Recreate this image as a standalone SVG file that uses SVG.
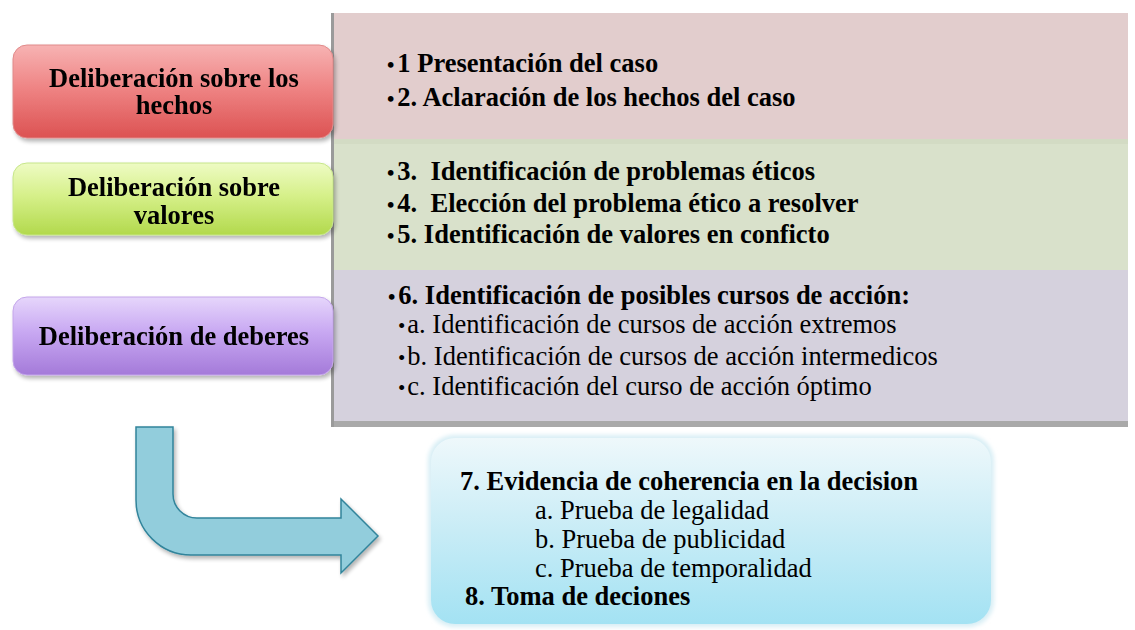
<svg xmlns="http://www.w3.org/2000/svg" width="1135" height="630" viewBox="0 0 1135 630">
<defs>
<style>
.b{font-family:"Liberation Serif","Times New Roman",serif;font-weight:bold;font-size:26.5px;fill:#000}
.r{font-family:"Liberation Serif","Times New Roman",serif;font-weight:normal;font-size:26.5px;fill:#000}
.c{text-anchor:middle}
.bu{font-size:21px}
</style>
<linearGradient id="gRed" x1="0" y1="0" x2="0" y2="1">
<stop offset="0" stop-color="#f7b3b3"/><stop offset="0.45" stop-color="#ef8585"/><stop offset="1" stop-color="#dc5252"/>
</linearGradient>
<linearGradient id="gGreen" x1="0" y1="0" x2="0" y2="1">
<stop offset="0" stop-color="#eefbc4"/><stop offset="0.45" stop-color="#d6f08a"/><stop offset="1" stop-color="#b2d94c"/>
</linearGradient>
<linearGradient id="gPurple" x1="0" y1="0" x2="0" y2="1">
<stop offset="0" stop-color="#e6d6fb"/><stop offset="0.45" stop-color="#c8a8f2"/><stop offset="1" stop-color="#a47ad9"/>
</linearGradient>
<linearGradient id="gBlue" x1="0" y1="0" x2="0" y2="1">
<stop offset="0" stop-color="#eef8fb"/><stop offset="0.5" stop-color="#c8ecf6"/><stop offset="1" stop-color="#a3e2f3"/>
</linearGradient>
<filter id="sh" x="-5%" y="-10%" width="112%" height="125%">
<feGaussianBlur in="SourceAlpha" stdDeviation="2"/>
<feOffset dx="2" dy="3" result="o"/>
<feComponentTransfer><feFuncA type="linear" slope="0.3"/></feComponentTransfer>
<feMerge><feMergeNode/><feMergeNode in="SourceGraphic"/></feMerge>
</filter>
<filter id="soft" x="-5%" y="-10%" width="110%" height="120%">
<feGaussianBlur in="SourceGraphic" stdDeviation="2"/>
</filter>
</defs>
<rect width="1135" height="630" fill="#ffffff"/>

<g id="panel-hechos">
<rect x="333" y="13" width="795" height="126" fill="#e2cdcd"/>
<text class="b" x="387" y="72"><tspan class="bu">•</tspan><tspan dx="3">1 Presentación del caso</tspan></text>
<text class="b" x="387" y="106"><tspan class="bu">•</tspan><tspan dx="3">2. Aclaración de los hechos del caso</tspan></text>
</g>
<g id="panel-valores">
<rect x="333" y="139" width="795" height="131" fill="#d9e1cb"/>
<rect x="333" y="139" width="795" height="5" fill="#d3dbc4"/>
<text class="b" x="387" y="180" xml:space="preserve"><tspan class="bu">•</tspan><tspan dx="3">3.  Identificación de problemas éticos</tspan></text>
<text class="b" x="387" y="212" xml:space="preserve"><tspan class="bu">•</tspan><tspan dx="3">4.  Elección del problema ético a resolver</tspan></text>
<text class="b" x="387" y="243"><tspan class="bu">•</tspan><tspan dx="3">5. Identificación de valores en conficto</tspan></text>
</g>
<g id="panel-deberes">
<rect x="333" y="270" width="795" height="151" fill="#d5d1dd"/>
<rect x="333" y="421" width="795" height="6" fill="#a9a9a9"/>
<text class="b" x="388" y="304"><tspan class="bu">•</tspan><tspan dx="3">6. Identificación de posibles cursos de acción:</tspan></text>
<text class="r" x="398" y="333"><tspan class="bu">•</tspan><tspan dx="2">a. Identificación de cursos de acción extremos</tspan></text>
<text class="r" x="398" y="365"><tspan class="bu">•</tspan><tspan dx="2">b. Identificación de cursos de acción intermedicos</tspan></text>
<text class="r" x="398" y="395"><tspan class="bu">•</tspan><tspan dx="2">c. Identificación del curso de acción óptimo</tspan></text>
</g>
<rect x="331" y="13" width="3" height="414" fill="#9a9a9a"/>

<g id="node-hechos" filter="url(#sh)">
<rect x="13" y="45" width="320" height="93" rx="14" fill="url(#gRed)" stroke="#e08a8a" stroke-width="1"/>
<text class="b c" x="174" y="87">Deliberación sobre los</text>
<text class="b c" x="174" y="114">hechos</text>
</g>
<g id="node-valores" filter="url(#sh)">
<rect x="13" y="163" width="320" height="72" rx="14" fill="url(#gGreen)" stroke="#c6e68a" stroke-width="1"/>
<text class="b c" x="174" y="196">Deliberación sobre</text>
<text class="b c" x="174" y="224">valores</text>
</g>
<g id="node-deberes" filter="url(#sh)">
<rect x="13" y="297" width="320" height="78" rx="14" fill="url(#gPurple)" stroke="#c4a6ea" stroke-width="1"/>
<text class="b c" x="174" y="345">Deliberación de deberes</text>
</g>

<g id="connectors" filter="url(#sh)">
<path d="M136,427 L136,500 A55,55 0 0 0 191,555 L341,555 L341,573 L378,536 L341,499 L341,518 L197,518 A24,24 0 0 1 173,494 L173,427 Z" fill="#92cddc" stroke="#31849b" stroke-width="1.5"/>
</g>

<g id="node-decision">
<rect x="428" y="435" width="566" height="192" rx="26" fill="#d8eef5" filter="url(#soft)"/>
<rect x="431" y="438" width="560" height="186" rx="24" fill="url(#gBlue)"/>
<text class="b" x="460" y="490">7. Evidencia de coherencia en la decision</text>
<text class="r" x="535" y="519">a. Prueba de legalidad</text>
<text class="r" x="535" y="548">b. Prueba de publicidad</text>
<text class="r" x="535" y="577">c. Prueba de temporalidad</text>
<text class="b" x="465" y="605">8. Toma de deciones</text>
</g>
</svg>
